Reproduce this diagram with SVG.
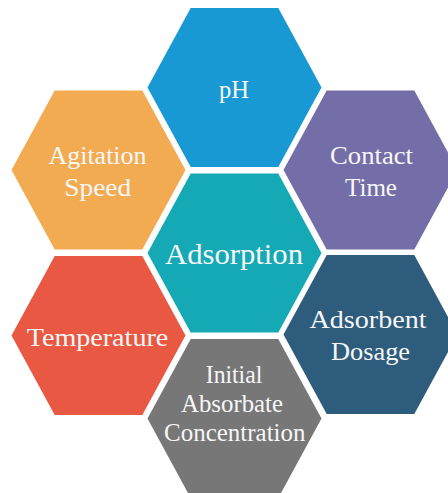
<svg xmlns="http://www.w3.org/2000/svg" xmlns:xlink="http://www.w3.org/1999/xlink" width="448" height="493" viewBox="0 0 448 493">
  <style>
    .lbl { font-family: "Liberation Serif", "DejaVu Serif", serif; fill: #f7f7f7; text-anchor: middle; font-size: 25.5px; }
    .big { font-size: 29px; }
  </style>
  <defs>
    <!-- flat-topped hexagon centred on the origin -->
    <polygon id="hex" points="-87,0 -43.8,-79.5 43.8,-79.5 87,0 43.8,79.5 -43.8,79.5"/>
  </defs>
  <rect width="448" height="493" fill="#ffffff"/>

  <g id="ph">
    <use xlink:href="#hex" x="234.5" y="87.5" fill="#1899D3"/>
    <text class="lbl" x="234" y="97.5" textLength="30" lengthAdjust="spacingAndGlyphs">pH</text>
  </g>

  <g id="agitation-speed">
    <use xlink:href="#hex" x="98.5" y="170" fill="#F3AB52"/>
    <text class="lbl" x="97.5" y="164" textLength="98" lengthAdjust="spacingAndGlyphs">Agitation</text>
    <text class="lbl" x="97.7" y="196" textLength="67" lengthAdjust="spacingAndGlyphs">Speed</text>
  </g>

  <g id="contact-time">
    <use xlink:href="#hex" x="370.5" y="170" fill="#746EA8"/>
    <text class="lbl" x="371.5" y="163.5" textLength="83" lengthAdjust="spacingAndGlyphs">Contact</text>
    <text class="lbl" x="371" y="195.7" textLength="52" lengthAdjust="spacingAndGlyphs">Time</text>
  </g>

  <g id="adsorption">
    <use xlink:href="#hex" x="234.5" y="253" fill="#14A9B5"/>
    <text class="lbl big" x="234" y="264.3" textLength="138" lengthAdjust="spacingAndGlyphs">Adsorption</text>
  </g>

  <g id="temperature">
    <use xlink:href="#hex" x="98.5" y="335.5" fill="#E85842"/>
    <text class="lbl" x="97.5" y="345.7" textLength="141.5" lengthAdjust="spacingAndGlyphs">Temperature</text>
  </g>

  <g id="adsorbent-dosage">
    <use xlink:href="#hex" x="370.5" y="334.5" fill="#2E5C7D"/>
    <text class="lbl" x="368" y="327.7" textLength="117" lengthAdjust="spacingAndGlyphs">Adsorbent</text>
    <text class="lbl" x="370.5" y="360" textLength="79" lengthAdjust="spacingAndGlyphs">Dosage</text>
  </g>

  <g id="initial-absorbate-concentration">
    <use xlink:href="#hex" x="234.5" y="418.5" fill="#777777"/>
    <text class="lbl" x="234" y="383.3" textLength="56.5" lengthAdjust="spacingAndGlyphs">Initial</text>
    <text class="lbl" x="232" y="412" textLength="102" lengthAdjust="spacingAndGlyphs">Absorbate</text>
    <text class="lbl" x="234.8" y="440.7" textLength="141.5" lengthAdjust="spacingAndGlyphs">Concentration</text>
  </g>
</svg>
